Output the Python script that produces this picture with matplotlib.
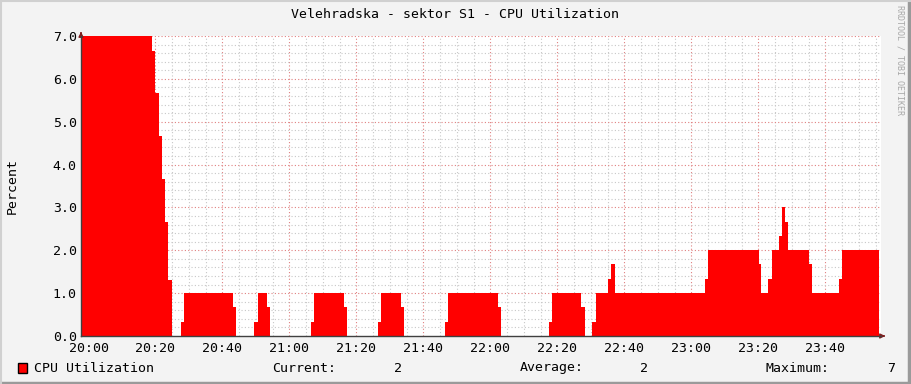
import matplotlib
matplotlib.use('Agg')
import matplotlib.pyplot as plt
import numpy as np

# minutes after 20:00 where each step of the CPU series starts, and its value
seg_start = [-2.24, 19.1, 20.0, 20.9, 21.8, 22.7, 23.7, 24.9,
             27.5, 28.4, 43.1, 44.0,
             49.4, 50.5, 53.4, 54.2,
             66.4, 67.3, 76.3, 77.1,
             86.5, 87.3, 93.2, 94.2,
             106.4, 107.3, 122.3, 123.1,
             137.6, 138.4, 147.0, 148.2,
             150.4, 151.4, 155.2, 156.0, 157.2,
             184.0, 185.0, 200.1, 200.9, 203.0, 204.1,
             206.1, 207.1, 207.9, 208.9, 215.0, 215.9,
             224.1, 224.9]
seg_value = [7.0, 6.65, 5.68, 4.67, 3.67, 2.67, 1.3, 0.0,
             0.33, 1.0, 0.67, 0.0,
             0.33, 1.0, 0.67, 0.0,
             0.33, 1.0, 0.67, 0.0,
             0.33, 1.0, 0.67, 0.0,
             0.33, 1.0, 0.67, 0.0,
             0.33, 1.0, 0.67, 0.0,
             0.33, 1.0, 1.33, 1.67, 1.0,
             1.33, 2.0, 1.67, 1.0, 1.33, 2.0,
             2.33, 3.0, 2.67, 2.0, 1.67, 1.0,
             1.33, 2.0]
data_end = 235.9

tick_pos = [0, 20, 40, 60, 80, 100, 120, 140, 160, 180, 200, 220]
tick_labels = ['20:00', '20:20', '20:40', '21:00', '21:20', '21:40',
               '22:00', '22:20', '22:40', '23:00', '23:20', '23:40']
y_ticks = [0, 1, 2, 3, 4, 5, 6, 7]

title = 'Velehradska - sektor S1 - CPU Utilization'
cur_val, avg_val, max_val = '2', '2', '7'

plt.rcParams['font.family'] = ['DejaVu Sans Mono']
fs = 9.5
W, H = 911, 384
fig = plt.figure(figsize=(W / 100, H / 100), dpi=100, facecolor='#f3f3f3')

# plot area in pixels: x 81..881, y 36..336
ax = fig.add_axes([81 / W, (H - 336) / H, 800 / W, 300 / H])
ax.set_facecolor('white')

x = np.array(seg_start + [data_end])
y = np.array(seg_value + [seg_value[-1]])
ax.fill_between(x, 0, y, step='post', color='#ff0000', linewidth=0, zorder=3)

ax.set_xlim(-2.24, 236.6)
ax.set_ylim(0, 7.0)

# grid
for t in np.arange(-0, 240, 5):
    c = '#e08080' if t % 20 == 0 else '#c8c8c8'
    ax.axvline(t, color=c, lw=0.8, ls=(0, (1, 2)), zorder=1)
for v in np.arange(0.2, 7.01, 0.2):
    c = '#e08080' if abs(v - round(v)) < 1e-6 else '#c8c8c8'
    ax.axhline(v, color=c, lw=0.8, ls=(0, (1, 2)), zorder=1)

ax.set_xticks(tick_pos)
ax.set_xticklabels(tick_labels, fontsize=fs)
ax.set_yticks(y_ticks)
ax.set_yticklabels(['%.1f' % v for v in y_ticks], fontsize=fs)
ax.tick_params(axis='both', length=0, pad=3)
ax.tick_params(axis='x', pad=4)

for s in ['top', 'right']:
    ax.spines[s].set_visible(False)
for s in ['left', 'bottom']:
    ax.spines[s].set_color('#404040')
    ax.spines[s].set_linewidth(1.0)
    ax.spines[s].set_zorder(5)

# arrows at axis ends
ax.annotate('', xy=(81 / W, (H - 29) / H), xytext=(81 / W, (H - 36) / H),
            xycoords='figure fraction',
            arrowprops=dict(arrowstyle='-|>', color='#7f1f1f', lw=1,
                            mutation_scale=7))
ax.annotate('', xy=(888 / W, (H - 336) / H), xytext=(881 / W, (H - 336) / H),
            xycoords='figure fraction',
            arrowprops=dict(arrowstyle='-|>', color='#7f1f1f', lw=1,
                            mutation_scale=7))

fig.text(455 / W, 1 - 14 / H, title, ha='center', va='center', fontsize=fs)
fig.text(12 / W, 1 - 186 / H, 'Percent', rotation=90, ha='center',
         va='center', fontsize=fs)
fig.text(900 / W, 1 - 5 / H, 'RRDTOOL / TOBI OETIKER', rotation=270,
         ha='center', va='top', fontsize=6, color='#a8a8a8')

# legend row
ly = 1 - 368 / H
fig.patches.append(plt.Rectangle((18 / W, 1 - 373 / H), 9 / W, 10 / H,
                                 transform=fig.transFigure,
                                 facecolor='#ff0000', edgecolor='black', lw=1))
fig.text(34 / W, ly, 'CPU Utilization', va='center', fontsize=fs)
fig.text(272 / W, ly, 'Current:', va='center', fontsize=fs)
fig.text(402 / W, ly, cur_val, va='center', ha='right', fontsize=fs)
fig.text(520 / W, ly, 'Average:', va='center', fontsize=fs)
fig.text(648 / W, ly, avg_val, va='center', ha='right', fontsize=fs)
fig.text(765 / W, ly, 'Maximum:', va='center', fontsize=fs)
fig.text(895 / W, ly, max_val, va='center', ha='right', fontsize=fs)

# 3d-ish frame
fig.add_artist(plt.Line2D([0, 1], [1 - 382.5 / H] * 2, color='#9a9a9a', lw=2.5))
fig.add_artist(plt.Line2D([1 - 2.5 / W] * 2, [0, 1], color='#9a9a9a', lw=2.5))
fig.add_artist(plt.Line2D([0, 1], [1 - 0.5 / H] * 2, color='#d0d0d0', lw=1.5))
fig.add_artist(plt.Line2D([1 / W] * 2, [0, 1], color='#d0d0d0', lw=1.5))

fig.savefig('out.png', dpi=100, facecolor=fig.get_facecolor())
